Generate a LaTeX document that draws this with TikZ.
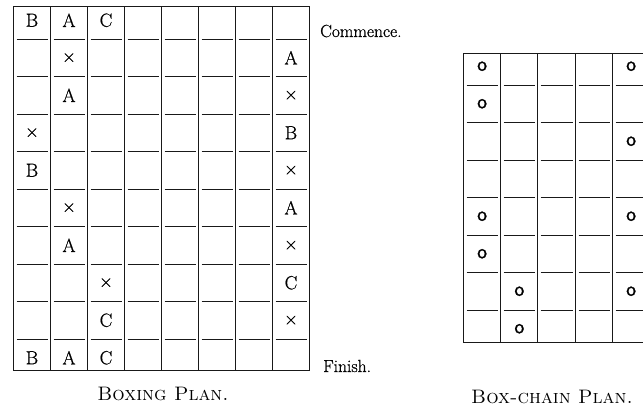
\documentclass[tikz,border=0pt]{standalone}
\usepackage{fontspec}
\newfontfamily\platefont[FakeBold=0.8]{Latin Modern Roman}
\newfontfamily\platesans[FakeBold=1.0]{Latin Modern Sans}
\begin{document}
\begin{tikzpicture}[x=1pt,y=-1pt,
  gridline/.style={line width=1.2pt, black!90},
  framel/.style={line width=1.5pt, black!90},
  lettr/.style={font=\platefont\fontsize{19}{19}\selectfont, inner sep=0pt},
  ringmk/.style={font=\platesans\fontsize{21}{21}\selectfont, inner sep=0pt},
  sidetxt/.style={font=\platefont\fontsize{17.5}{17.5}\selectfont, inner sep=0pt, anchor=base west},
  captxt/.style={font=\fontsize{19.5}{19.5}\selectfont\scshape, inner sep=0pt, anchor=base}]
\useasboundingbox (0,0) rectangle (643,409);
% ---------- Boxing plan ----------
\foreach \x in {50.5,87.5,124.5,161.5,198.5,235.5,272.5}
  \draw[gridline] (\x,6.5) -- (\x,370.5);
\draw[framel] (13.5,6.5) rectangle (309.5,370.5);
\foreach \y in {39.5,76.5,114.5,151.5,189.5,226.5,264.5,301.5,339.5}
  \foreach \c in {0,...,7}
    \draw[gridline] ({13.5+37*\c+3},\y) -- ({13.5+37*(\c+1)-3},\y);
\foreach \r/\c/\t in {1/1/B,1/2/A,1/3/C,
    2/2/×,2/8/A,
    3/2/A,3/8/×,
    4/1/×,4/8/B,
    5/1/B,5/8/×,
    6/2/×,6/8/A,
    7/2/A,7/8/×,
    8/3/×,8/8/C,
    9/3/C,9/8/×,
    10/1/B,10/2/A,10/3/C}
  \node[lettr] (L\r-\c) at ({13.5+37*(\c-0.5)},{37.5*\r-17.25}) {\t};
\node[sidetxt] (commence) at (320,37) {Commence.};
\node[sidetxt] (finish) at (323,372) {Finish.};
\node[captxt] (cap1) at (163,400) {Boxing Plan.};
% ---------- Box-chain plan ----------
\foreach \x in {500.5,537.5,575.5,612.5}
  \draw[gridline] (\x,53.5) -- (\x,342.5);
\draw[framel] (463.5,53.5) -- (463.5,342.5);
\draw[framel] (463.5,53.5) -- (643,53.5);
\draw[framel] (463.5,342.5) -- (643,342.5);
\foreach \y in {85.5,122.5,160.5,197.5,235.5,272.5,310.5}{
  \foreach \xa/\xb in {466.5/497.5,503.5/534.5,540.5/572.5,578.5/609.5,615.5/643}
    \draw[gridline] (\xa,\y) -- (\xb,\y);
}
\foreach \r/\c in {1/1,1/5,2/1,3/5,5/1,5/5,6/1,7/2,7/5,8/2}
  \node[ringmk] (R\r-\c) at ({463.5+37.25*(\c-0.5)},{28.75+37.5*\r}) {o};
\node[captxt] (cap2) at (552,403.3) {Box-chain Plan.};
\end{tikzpicture}
\end{document}
